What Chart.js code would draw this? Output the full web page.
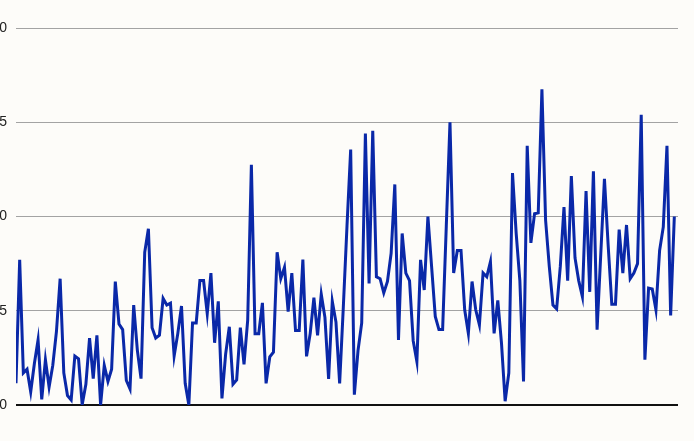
<!DOCTYPE html>
<html>
<head>
<meta charset="utf-8">
<script src="https://cdn.jsdelivr.net/npm/chart.js@4/dist/chart.umd.min.js"></script>
<style>
  html, body { margin: 0; padding: 0; background: #fdfcf9; overflow: hidden; }
  #chart { position: absolute; left: -30px; top: 0; }
</style>
</head>
<body>
<canvas id="chart" width="708" height="441"></canvas>
<script>
// series, one value per step
const seriesValues = [
  1.15, 7.7, 1.7, 1.9, 0.7, 2.2, 3.45, 0.3, 2.4, 0.95,
  2.1, 3.9, 6.7, 1.7, 0.5, 0.27, 2.6, 2.45, 0.02, 1.1,
  3.55, 1.4, 3.7, 0, 2.1, 1.25, 1.9, 6.55, 4.3, 4.0,
  1.3, 0.85, 5.3, 2.9, 1.4, 8.1, 9.35, 4.1, 3.55, 3.7,
  5.65, 5.3, 5.4, 2.6, 3.8, 5.25, 1.15, 0, 4.35, 4.35,
  6.6, 6.6, 4.85, 7.0, 3.3, 5.5, 0.35, 2.7, 4.15, 1.1,
  1.33, 4.1, 2.15, 4.5, 12.75, 3.78, 3.78, 5.42, 1.15, 2.55,
  2.8, 8.1, 6.7, 7.3, 4.95, 7.0, 3.95, 3.95, 7.72, 2.58,
  3.8, 5.7, 3.7, 5.88, 4.65, 1.38, 5.5, 4.4, 1.15, 5.2,
  9.5, 13.55, 0.55, 2.9, 4.35, 14.4, 6.45, 14.55, 6.8, 6.7,
  5.95, 6.55, 8.05, 11.7, 3.45, 9.1, 7.0, 6.6, 3.4, 2.3,
  7.7, 6.1, 10.0, 7.35, 4.7, 4.0, 4.0, 9.5, 15.0, 7.0,
  8.2, 8.2, 5.05, 3.8, 6.55, 5.05, 4.25, 7.0, 6.8, 7.6,
  3.8, 5.55, 3.3, 0.2, 1.7, 12.3, 9.1, 6.6, 1.25, 13.75,
  8.6, 10.15, 10.2, 16.75, 9.8, 7.35, 5.3, 5.1, 7.35, 10.5,
  6.6, 12.15, 7.8, 6.6, 5.75, 11.35, 6.0, 12.4, 4.0, 8.0,
  12.0, 8.5, 5.35, 5.35, 9.3, 7.0, 9.55, 6.7, 7.0, 7.5,
  15.4, 2.4, 6.2, 6.15, 5.05, 8.2, 9.45, 13.75, 4.75, 10.0
];
const yTicks = [0, 5, 10, 15, 20];

const points = seriesValues.map((v, i) => ({ x: i, y: v }));

new Chart(document.getElementById('chart'), {
  type: 'line',
  data: {
    datasets: [{
      data: points,
      borderColor: '#0a28a8',
      borderWidth: 3,
      pointRadius: 0,
      tension: 0,
      fill: false
    }]
  },
  options: {
    responsive: false,
    animation: false,
    layout: { padding: { top: 28, bottom: 36, left: 0, right: 0 } },
    plugins: { legend: { display: false }, tooltip: { enabled: false } },
    scales: {
      x: {
        type: 'linear',
        min: 0,
        max: seriesValues.length,
        display: false
      },
      y: {
        min: yTicks[0],
        max: yTicks[yTicks.length - 1],
        afterFit: scale => { scale.width = 46; },
        afterBuildTicks: scale => { scale.ticks = yTicks.map(v => ({ value: v })); },
        border: { display: false },
        grid: {
          drawTicks: false,
          color: ctx => ctx.tick && ctx.tick.value === 0 ? '#111' : '#a3a3a3',
          lineWidth: ctx => ctx.tick && ctx.tick.value === 0 ? 2 : 1
        },
        ticks: {
          padding: 9,
          color: '#222',
          font: { family: 'Liberation Sans', size: 14 }
        }
      }
    }
  }
});
</script>
</body>
</html>
